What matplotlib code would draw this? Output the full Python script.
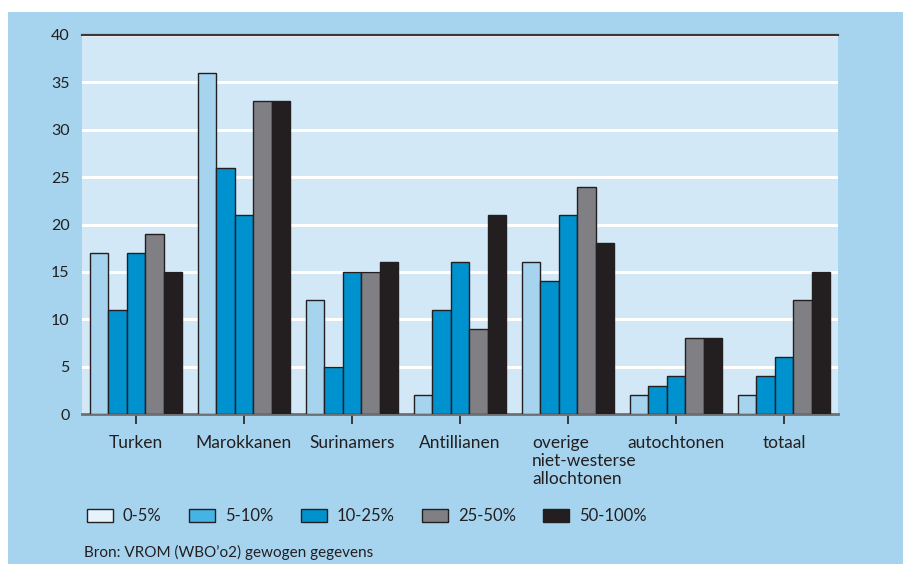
import numpy as np
import matplotlib.pyplot as plt
import matplotlib.transforms as mtrans
from matplotlib.patches import Rectangle, Patch

plt.rcParams['font.family'] = ['Lato', 'DejaVu Sans']

# Gegevens
groepen = ['Turken', 'Marokkanen', 'Surinamers', 'Antillianen',
           'overige\nniet-westerse\nallochtonen', 'autochtonen', 'totaal']
klassen = ['0-5%', '5-10%', '10-25%', '25-50%', '50-100%']
waarden_0_5 = [17, 36, 12, 2, 16, 2, 2]
waarden_5_10 = [11, 26, 5, 11, 14, 3, 4]
waarden_10_25 = [17, 21, 15, 16, 21, 4, 6]
waarden_25_50 = [19, 33, 15, 9, 24, 8, 12]
waarden_50_100 = [15, 33, 16, 21, 18, 8, 15]
reeksen = [waarden_0_5, waarden_5_10, waarden_10_25, waarden_25_50, waarden_50_100]

kleuren_staaf = ['#a6d4ee', '#0092cf', '#0092cf', '#808084', '#231f20']
kleuren_legenda = ['#e6f3fa', '#45b4e4', '#0092cf', '#808084', '#231f20']
buiten = '#a6d4ee'
binnen = '#d2e8f6'
tekst = '#231f20'

fig = plt.figure(figsize=(9.04, 5.64), dpi=100, facecolor='white')
achter = Rectangle((8 / 904, 0), 1, (564 - 12) / 564, transform=fig.transFigure,
                   facecolor=buiten, edgecolor='none', zorder=-10)
fig.add_artist(achter)

ax = fig.add_axes([82 / 904, (564 - 414) / 564, 756 / 904, 379 / 564])
ax.set_facecolor(binnen)

x = np.arange(len(groepen))
breedte = 0.17
for i, reeks in enumerate(reeksen):
    ax.bar(x + (i - 2) * breedte, reeks, breedte, color=kleuren_staaf[i],
           edgecolor='#231f20', linewidth=1.0, zorder=3)

ax.set_xlim(-0.5, len(groepen) - 0.5)
ax.set_ylim(0, 40)
ax.set_yticks(range(0, 41, 5))
ax.yaxis.grid(True, color='white', linewidth=2.2, zorder=1)
ax.set_axisbelow(True)

for kant in ['left', 'right']:
    ax.spines[kant].set_visible(False)
ax.spines['top'].set_color('#3a3a3c')
ax.spines['top'].set_linewidth(1.6)
ax.spines['bottom'].set_color('#6d6e71')
ax.spines['bottom'].set_linewidth(2.0)

ax.set_xticks(x)
ax.set_xticklabels(groepen, va='top', fontsize=12.5, color=tekst, linespacing=1.15)
ax.tick_params(axis='x', length=7, width=1.2, color='#231f20', pad=8, direction='out')
ax.tick_params(axis='y', length=0, pad=9, labelsize=11.5, labelcolor=tekst)

# meerregelig label links uitlijnen, beginnend links van de tick
for lab, naam in zip(ax.get_xticklabels(), groepen):
    if '\n' in naam:
        lab.set_ha('left')
        lab.set_multialignment('left')
        lab.set_transform(lab.get_transform() +
                          mtrans.ScaledTranslation(-0.36, 0, fig.dpi_scale_trans))

handles = [Patch(facecolor=k, edgecolor='#231f20', linewidth=1.0) for k in kleuren_legenda]
fig.legend(handles, klassen, loc='center left', bbox_to_anchor=(72 / 904, (564 - 516) / 564),
           ncol=5, frameon=False, fontsize=12, handlelength=1.55, handleheight=0.8,
           handletextpad=0.6, columnspacing=1.65, labelcolor=tekst)

fig.text(84 / 904, (564 - 552) / 564, 'Bron: VROM (WBO\u2019o2) gewogen gegevens',
         fontsize=11, color=tekst, va='center', ha='left')

fig.savefig('out.png', dpi=100, facecolor='white')
